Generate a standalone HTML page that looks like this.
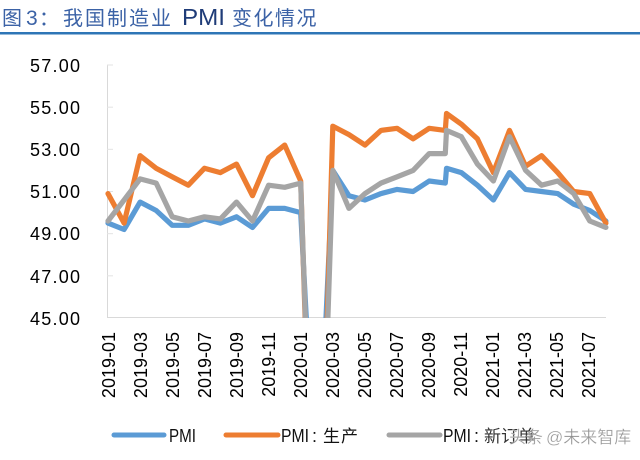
<!DOCTYPE html>
<html><head><meta charset="utf-8">
<style>
html,body{margin:0;padding:0;background:#fff;width:640px;height:460px;overflow:hidden;}
svg{display:block;}
</style></head>
<body>
<svg width="640" height="460" viewBox="0 0 640 460" xmlns="http://www.w3.org/2000/svg">
<rect width="640" height="460" fill="#fff"/>
<!-- Title -->
<g font-family="'Liberation Sans','Noto Sans CJK SC',sans-serif">
<text x="2" y="25" font-size="20" fill="#3b62a6" font-family="'Noto Sans CJK SC',sans-serif">图</text>
<text x="26" y="25" font-size="21" fill="#3b62a6">3</text>
<text x="39" y="25" font-size="20" fill="#3b62a6" font-family="'Noto Sans CJK SC',sans-serif">：</text>
<text x="63" y="25" font-size="20" fill="#3b62a6" letter-spacing="2" font-family="'Noto Sans CJK SC',sans-serif">我国制造业</text>
<text x="182" y="25" font-size="23" fill="#1f3c78" textLength="43" lengthAdjust="spacingAndGlyphs">PMI</text>
<text x="232" y="25" font-size="20" fill="#3b62a6" letter-spacing="1.5" font-family="'Noto Sans CJK SC',sans-serif">变化情况</text>
</g>
<rect x="0" y="32" width="640" height="2.5" fill="#2e75b6"/>

<!-- Axes -->
<line x1="107.5" y1="65" x2="107.5" y2="318" stroke="#d9d9d9" stroke-width="1"/>
<line x1="107" y1="317.5" x2="606" y2="317.5" stroke="#d9d9d9" stroke-width="1"/>
<g stroke="#e3e3e3" stroke-width="1">
<line x1="107" y1="65" x2="113" y2="65"/>
<line x1="107" y1="107.2" x2="113" y2="107.2"/>
<line x1="107" y1="149.3" x2="113" y2="149.3"/>
<line x1="107" y1="191.5" x2="113" y2="191.5"/>
<line x1="107" y1="233.7" x2="113" y2="233.7"/>
<line x1="107" y1="275.8" x2="113" y2="275.8"/>
</g>

<!-- Y labels -->
<g font-family="'Liberation Sans',sans-serif" font-size="18" fill="#000">
<text x="30" y="72" textLength="50" lengthAdjust="spacing">57.00</text>
<text x="30" y="114" textLength="50" lengthAdjust="spacing">55.00</text>
<text x="30" y="156" textLength="50" lengthAdjust="spacing">53.00</text>
<text x="30" y="198" textLength="50" lengthAdjust="spacing">51.00</text>
<text x="30" y="240" textLength="50" lengthAdjust="spacing">49.00</text>
<text x="30" y="283" textLength="50" lengthAdjust="spacing">47.00</text>
<text x="30" y="325" textLength="50" lengthAdjust="spacing">45.00</text>
</g>

<!-- X labels -->
<g font-family="'Liberation Sans',sans-serif" font-size="18" fill="#000" text-anchor="end">
<text transform="translate(115,332) rotate(-90)">2019-01</text>
<text transform="translate(147,332) rotate(-90)">2019-03</text>
<text transform="translate(179,332) rotate(-90)">2019-05</text>
<text transform="translate(211,332) rotate(-90)">2019-07</text>
<text transform="translate(243,332) rotate(-90)">2019-09</text>
<text transform="translate(275,332) rotate(-90)">2019-11</text>
<text transform="translate(307,332) rotate(-90)">2020-01</text>
<text transform="translate(339,332) rotate(-90)">2020-03</text>
<text transform="translate(371,332) rotate(-90)">2020-05</text>
<text transform="translate(403,332) rotate(-90)">2020-07</text>
<text transform="translate(435,332) rotate(-90)">2020-09</text>
<text transform="translate(467,332) rotate(-90)">2020-11</text>
<text transform="translate(499,332) rotate(-90)">2021-01</text>
<text transform="translate(531,332) rotate(-90)">2021-03</text>
<text transform="translate(563,332) rotate(-90)">2021-05</text>
<text transform="translate(595,332) rotate(-90)">2021-07</text>
</g>

<defs><clipPath id="pc"><rect x="95" y="40" width="545" height="278"/></clipPath></defs>
<g clip-path="url(#pc)" fill="none" stroke-width="5.2" stroke-linejoin="round" stroke-linecap="round">
<polyline stroke="#5b9bd5" points="108.0,223.1 124.1,229.5 140.1,202.1 156.2,210.5 172.2,225.3 188.3,225.3 204.4,218.9 220.4,223.1 236.5,216.8 252.5,227.4 268.6,208.4 284.7,208.4 300.7,212.6 306.6,324"/>
<polyline stroke="#5b9bd5" points="325.7,324 332.8,170.4 348.9,195.7 365.0,200.0 381.0,193.6 397.1,189.4 413.1,191.5 429.2,181.0 445.3,183.1 446.5,168.3 461.3,172.6 477.4,185.2 493.4,200.0 509.5,172.6 525.6,189.4 541.6,191.5 557.7,193.6 573.7,204.2 589.8,210.5 605.9,221.0"/>
<polyline stroke="#ed7d31" points="108.0,193.6 124.1,223.1 140.1,155.7 156.2,168.3 172.2,176.8 188.3,185.2 204.4,168.3 220.4,172.6 236.5,164.1 252.5,195.7 268.6,157.8 284.7,145.1 300.7,181.0 305.3,324"/>
<polyline stroke="#ed7d31" points="327.1,324 332.8,126.2 348.9,134.6 365.0,145.1 381.0,130.4 397.1,128.3 413.1,138.8 429.2,128.3 445.3,130.4 446.5,113.5 461.3,124.1 477.4,138.8 493.4,172.6 509.5,130.4 525.6,166.2 541.6,155.7 557.7,172.6 573.7,191.5 589.8,193.6 605.9,223.1"/>
<polyline stroke="#a5a5a5" points="108.0,221.0 124.1,200.0 140.1,178.9 156.2,183.1 172.2,216.8 188.3,221.0 204.4,216.8 220.4,218.9 236.5,202.1 252.5,221.0 268.6,185.2 284.7,187.3 300.7,183.1 305.6,324"/>
<polyline stroke="#a5a5a5" points="327.7,324 332.8,170.4 348.9,208.4 365.0,193.6 381.0,183.1 397.1,176.8 413.1,170.4 429.2,153.6 445.3,153.6 446.5,130.4 461.3,136.7 477.4,164.1 493.4,181.0 509.5,136.7 525.6,170.4 541.6,185.2 557.7,181.0 573.7,193.6 589.8,221.0 605.9,227.4"/>
</g>

<!-- Legend -->
<g stroke-width="5" stroke-linecap="round">
<line x1="114" y1="435" x2="164" y2="435" stroke="#5b9bd5"/>
<line x1="226" y1="435" x2="278" y2="435" stroke="#ed7d31"/>
<line x1="389" y1="435" x2="440" y2="435" stroke="#a5a5a5"/>
</g>
<g font-family="'Liberation Sans','Noto Sans CJK SC',sans-serif" font-size="18" fill="#111">
<text x="169" y="442" textLength="27" lengthAdjust="spacingAndGlyphs">PMI</text>
<text x="281" y="442" textLength="28" lengthAdjust="spacingAndGlyphs">PMI</text>
<text x="312" y="442">:</text>
<text x="323" y="442" font-family="'Noto Sans CJK SC',sans-serif" font-size="17" letter-spacing="1">生产</text>
<text x="443" y="442" textLength="28" lengthAdjust="spacingAndGlyphs">PMI</text>
<text x="474" y="442">:</text>
<text x="484" y="442" font-family="'Noto Sans CJK SC',sans-serif" font-size="17" fill="#333">新订单</text>
</g>
<g font-family="'Noto Sans CJK SC',sans-serif" font-size="17" fill="#777" fill-opacity="0.85" stroke="#fff" stroke-width="0.6" stroke-opacity="0.6">
<text x="509" y="443">头条</text>
<text x="546" y="443" font-family="'Liberation Sans','Noto Sans CJK SC',sans-serif">@未来智库</text>
</g>
</svg>
</body></html>
